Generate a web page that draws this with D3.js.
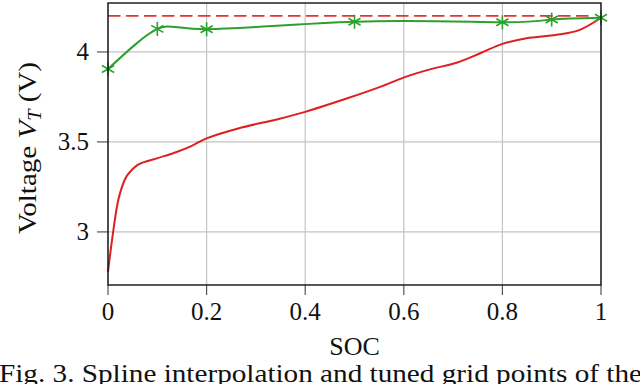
<!DOCTYPE html>
<html>
<head>
<meta charset="utf-8">
<script src="https://cdn.jsdelivr.net/npm/d3@7"></script>
<style>
  body { margin: 0; background: #fff; }
  svg text { font-family: "Liberation Serif", "DejaVu Serif", serif; fill: #111; }
  .grid line { stroke: #c4c4c4; stroke-width: 1.2; }
  .tick-mark { stroke: #555; stroke-width: 1.2; }
</style>
</head>
<body>
<div class="wrapper"></div>
<script>
// measured curve (solid red)
const measuredSoc = [0, 0.011, 0.021, 0.034, 0.04, 0.061, 0.101, 0.135, 0.169, 0.2, 0.264, 0.342, 0.4, 0.484, 0.552, 0.601, 0.653, 0.707, 0.755, 0.8, 0.849, 0.91, 0.957, 1]
const measuredVoltage = [2.778, 3.011, 3.179, 3.29, 3.318, 3.374, 3.41, 3.44, 3.477, 3.52, 3.575, 3.625, 3.667, 3.741, 3.806, 3.859, 3.903, 3.94, 3.993, 4.045, 4.076, 4.095, 4.123, 4.19]

// tuned grid points (green, spline)
const gridSoc = [0, 0.1, 0.2, 0.5, 0.8, 0.9, 1]
const gridVoltage = [3.905, 4.128, 4.126, 4.168, 4.165, 4.18, 4.19]

// upper limit (dashed)
const limitVoltage = 4.2

const xTicks = [0, 0.2, 0.4, 0.6, 0.8, 1]
const xTickLabels = ["0", "0.2", "0.4", "0.6", "0.8", "1"]
const yTicks = [3, 3.5, 4]
const yTickLabels = ["3", "3.5", "4"]

function drawChart() {
    let dimensions = {
        width: 640,
        height: 384,
        margin: {
            top: 3,
            right: 39,
            bottom: 99,
            left: 108,
        },
    }
    dimensions.boundedWidth = dimensions.width
        - dimensions.margin.left
        - dimensions.margin.right
    dimensions.boundedHeight = dimensions.height
        - dimensions.margin.top
        - dimensions.margin.bottom

    const wrapper = d3.select(".wrapper")
        .append("svg")
        .attr("width", dimensions.width)
        .attr("height", dimensions.height)

    const bounds = wrapper.append("g")
        .attr("transform", `translate(${dimensions.margin.left}, ${dimensions.margin.top})`)

    const xScale = d3.scaleLinear()
        .domain([0, 1])
        .range([0, dimensions.boundedWidth])

    const yScale = d3.scaleLinear()
        .domain([2.705, 4.272])
        .range([dimensions.boundedHeight, 0])

    // grid
    const grid = bounds.append("g").attr("class", "grid")
    grid.selectAll(".gx")
        .data(xTicks)
        .enter().append("line")
        .attr("x1", d => xScale(d))
        .attr("x2", d => xScale(d))
        .attr("y1", 0)
        .attr("y2", dimensions.boundedHeight)
    grid.selectAll(".gy")
        .data(yTicks)
        .enter().append("line")
        .attr("x1", 0)
        .attr("x2", dimensions.boundedWidth)
        .attr("y1", d => yScale(d))
        .attr("y2", d => yScale(d))

    // tick marks outside
    bounds.selectAll(".xtick")
        .data(xTicks)
        .enter().append("line")
        .attr("class", "tick-mark")
        .attr("x1", d => xScale(d))
        .attr("x2", d => xScale(d))
        .attr("y1", dimensions.boundedHeight)
        .attr("y2", dimensions.boundedHeight + 10)
    bounds.selectAll(".ytick")
        .data(yTicks)
        .enter().append("line")
        .attr("class", "tick-mark")
        .attr("x1", -11)
        .attr("x2", 0)
        .attr("y1", d => yScale(d))
        .attr("y2", d => yScale(d))

    // tick labels
    bounds.selectAll(".xlabel")
        .data(xTicks)
        .enter().append("text")
        .attr("x", d => xScale(d))
        .attr("y", dimensions.boundedHeight + 35)
        .attr("text-anchor", "middle")
        .style("font-size", "25px")
        .text((d, i) => xTickLabels[i])
    bounds.selectAll(".ylabel")
        .data(yTicks)
        .enter().append("text")
        .attr("x", -19)
        .attr("y", d => yScale(d) + 8.5)
        .attr("text-anchor", "end")
        .style("font-size", "25px")
        .text((d, i) => yTickLabels[i])

    // dashed limit
    bounds.append("line")
        .attr("x1", 0)
        .attr("x2", xScale(0.98))
        .attr("y1", yScale(limitVoltage))
        .attr("y2", yScale(limitVoltage))
        .attr("stroke", "#e03535")
        .attr("stroke-width", 1.8)
        .attr("stroke-dasharray", "12.5 5.5")

    // measured curve
    const measured = d3.zip(measuredSoc, measuredVoltage)
    const measuredLine = d3.line()
        .x(d => xScale(d[0]))
        .y(d => yScale(d[1]))
        .curve(d3.curveCatmullRom)
    bounds.append("path")
        .attr("d", measuredLine(measured))
        .attr("fill", "none")
        .attr("stroke", "#dd1f1f")
        .attr("stroke-width", 2)

    // spline through grid points
    const gridPoints = d3.zip(gridSoc, gridVoltage)
    const splineLine = d3.line()
        .x(d => xScale(d[0]))
        .y(d => yScale(d[1]))
        .curve(d3.curveNatural)
    bounds.append("path")
        .attr("d", splineLine(gridPoints))
        .attr("fill", "none")
        .attr("stroke", "#2ca02c")
        .attr("stroke-width", 2)

    // asterisk markers
    const r = 7
    const markerAngles = [90, 30, 150]
    const markers = bounds.selectAll(".marker")
        .data(gridPoints)
        .enter().append("g")
        .attr("class", "marker")
        .attr("transform", d => `translate(${xScale(d[0])}, ${yScale(d[1])})`)
    markerAngles.forEach(a => {
        const rad = a * Math.PI / 180
        markers.append("line")
            .attr("x1", -r * Math.cos(rad))
            .attr("y1", -r * Math.sin(rad))
            .attr("x2", r * Math.cos(rad))
            .attr("y2", r * Math.sin(rad))
            .attr("stroke", "#2ca02c")
            .attr("stroke-width", 1.6)
    })

    // frame
    bounds.append("rect")
        .attr("width", dimensions.boundedWidth)
        .attr("height", dimensions.boundedHeight)
        .attr("fill", "none")
        .attr("stroke", "#111")
        .attr("stroke-width", 1.4)

    // axis titles
    bounds.append("text")
        .attr("x", dimensions.boundedWidth / 2)
        .attr("y", dimensions.boundedHeight + 70)
        .attr("text-anchor", "middle")
        .style("font-size", "26px")
        .text("SOC")

    const yTitle = wrapper.append("text")
        .attr("transform", `translate(36, ${dimensions.margin.top + dimensions.boundedHeight / 2 + 4}) rotate(-90)`)
        .attr("text-anchor", "middle")
        .attr("textLength", 172)
        .attr("lengthAdjust", "spacingAndGlyphs")
        .style("font-size", "26px")
    yTitle.append("tspan").text("Voltage ")
    yTitle.append("tspan").style("font-style", "italic").text("V")
    yTitle.append("tspan").style("font-style", "italic").style("font-size", "18px").attr("dy", 5).text("T")
    yTitle.append("tspan").attr("dy", -5).text(" (V)")

    // caption (cut at bottom edge, as in the source)
    wrapper.append("text")
        .attr("x", -1)
        .attr("y", 382)
        .attr("textLength", 643)
        .attr("lengthAdjust", "spacingAndGlyphs")
        .style("font-size", "25px")
        .text("Fig. 3. Spline interpolation and tuned grid points of the")
}

drawChart()
</script>
</body>
</html>
